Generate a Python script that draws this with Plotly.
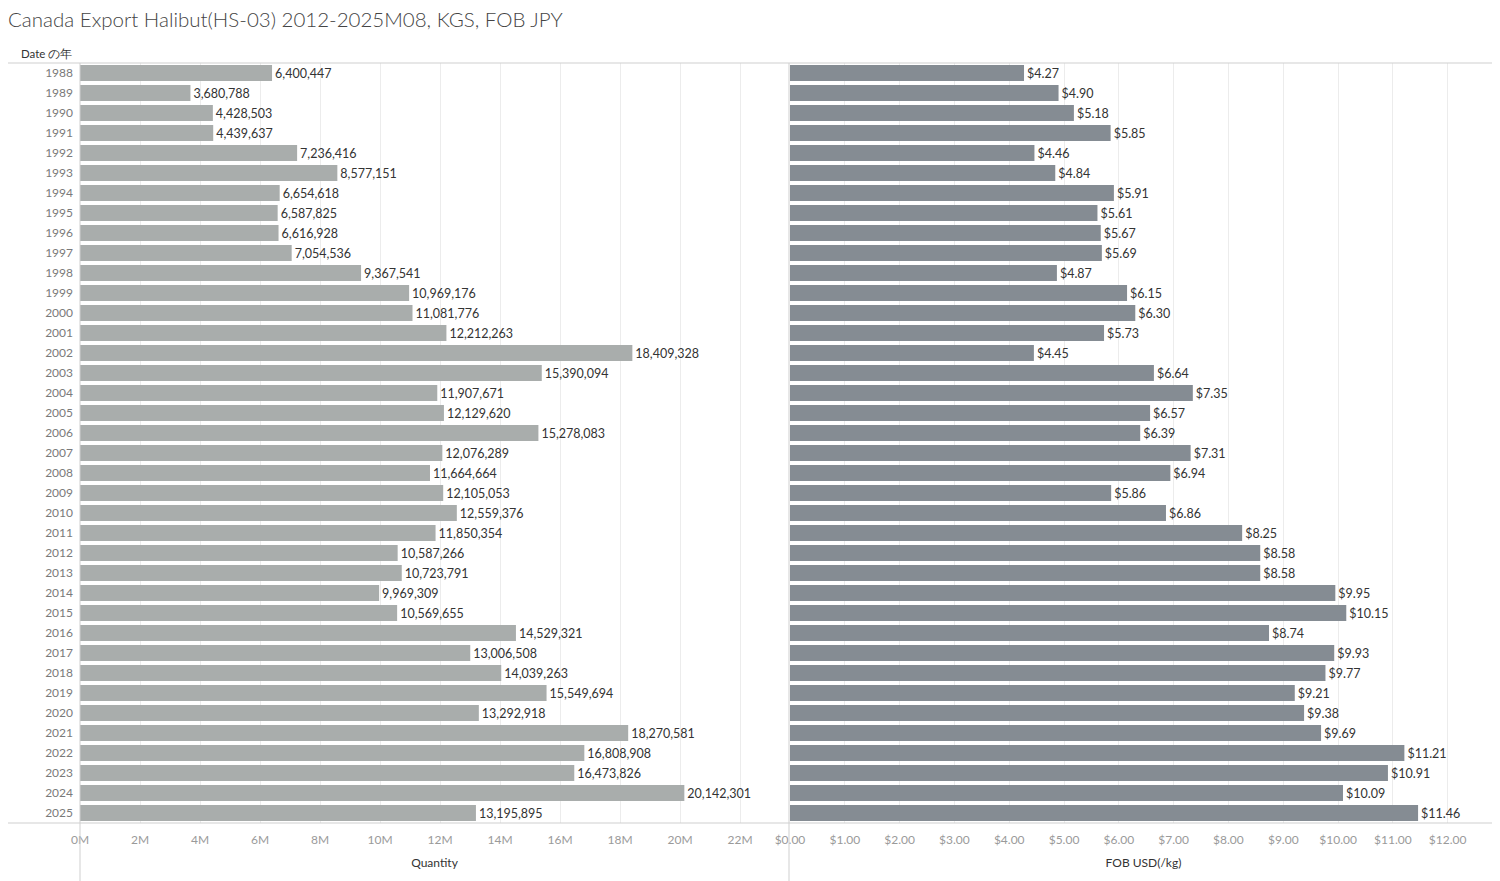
import plotly.graph_objects as go

years = [str(y) for y in range(1988, 2026)]
quantity = [6400447, 3680788, 4428503, 4439637, 7236416, 8577151, 6654618, 6587825,
            6616928, 7054536, 9367541, 10969176, 11081776, 12212263, 18409328, 15390094,
            11907671, 12129620, 15278083, 12076289, 11664664, 12105053, 12559376, 11850354,
            10587266, 10723791, 9969309, 10569655, 14529321, 13006508, 14039263, 15549694,
            13292918, 18270581, 16808908, 16473826, 20142301, 13195895]
fob_usd = [4.27, 4.90, 5.18, 5.85, 4.46, 4.84, 5.91, 5.61, 5.67, 5.69, 4.87, 6.15, 6.30,
           5.73, 4.45, 6.64, 7.35, 6.57, 6.39, 7.31, 6.94, 5.86, 6.86, 8.25, 8.58, 8.58,
           9.95, 10.15, 8.74, 9.93, 9.77, 9.21, 9.38, 9.69, 11.21, 10.91, 10.09, 11.46]

qty_ticks = [i * 2_000_000 for i in range(12)]
qty_ticktext = [f"{i*2}M" for i in range(12)]
usd_ticks = list(range(13))
usd_ticktext = [f"${v}.00" for v in usd_ticks]

# page has an 8px body margin; compensate so page coords match
OFF = 8
W, H = 1500 - OFF, 881 - OFF
L, R, T, B = 80 - OFF, 3, 63 - OFF, 58
pw = W - L - R
ph = H - T - B
split = (789 - 80) / pw

FONT = "Lato"
fig = go.Figure()
fig.add_trace(go.Bar(
    y=years, x=quantity, orientation="h", xaxis="x", yaxis="y",
    marker=dict(color="#a9adac", line=dict(width=0)),
    texttemplate="%{x:,}", textposition="outside", cliponaxis=False,
    textfont=dict(color="#333333", size=12.5, family=FONT), hoverinfo="skip",
))
fig.add_trace(go.Bar(
    y=years, x=fob_usd, orientation="h", xaxis="x2", yaxis="y",
    marker=dict(color="#858c93", line=dict(width=0)),
    texttemplate="$%{x:.2f}", textposition="outside", cliponaxis=False,
    textfont=dict(color="#333333", size=12.5, family=FONT), hoverinfo="skip",
))

axis_common = dict(showgrid=True, gridcolor="#ececec", gridwidth=1, zeroline=False,
                   showline=False, ticks="", tickfont=dict(color="#9a9a9a", size=12, family=FONT),
                   ticklabelstandoff=8, fixedrange=True)
fig.update_layout(
    width=W, height=H,
    margin=dict(l=L, r=R, t=T, b=B, pad=0),
    paper_bgcolor="white", plot_bgcolor="white",
    showlegend=False, bargap=0.2,
    font=dict(family=FONT, color="#333333"),
    xaxis=dict(domain=[0, split], range=[0, 23.63e6], tickvals=qty_ticks, ticktext=qty_ticktext,
               title=dict(text="Quantity", font=dict(size=12, color="#333333"), standoff=12),
               **axis_common),
    xaxis2=dict(domain=[split + 1 / pw, 1], range=[0, 12.9], tickvals=usd_ticks, ticktext=usd_ticktext,
                anchor="y",
                title=dict(text="FOB USD(/kg)", font=dict(size=12, color="#333333"), standoff=12),
                **axis_common),
    yaxis=dict(type="category", categoryorder="array", categoryarray=years, autorange="reversed",
               showgrid=False, zeroline=False, showline=False, ticks="",
               tickfont=dict(color="#7a7a7a", size=12, family=FONT), ticklabelstandoff=6,
               fixedrange=True),
    title=dict(text="Canada Export Halibut(HS-03) 2012-2025M08, KGS, FOB JPY",
               x=0, xref="container", xanchor="left",
               y=1 - (20 - OFF) / H, yref="container", yanchor="middle",
               font=dict(size=20.5, color="#444444", family=FONT, weight=300)),
)

line_col = "#cfcfcf"
shapes = [
    dict(type="line", xref="paper", yref="paper", x0=-L / pw, x1=1, y0=1, y1=1,
         line=dict(color=line_col, width=1)),
    dict(type="line", xref="paper", yref="paper", x0=-L / pw, x1=1 + R / pw, y0=0, y1=0,
         line=dict(color=line_col, width=1)),
    dict(type="line", xref="paper", yref="paper", x0=0, x1=0, y0=-B / ph, y1=1,
         line=dict(color=line_col, width=1)),
    dict(type="line", xref="paper", yref="paper", x0=split, x1=split, y0=-B / ph, y1=1,
         line=dict(color=line_col, width=1)),
    dict(type="line", xref="paper", yref="paper", x0=1, x1=1, y0=0, y1=1,
         line=dict(color=line_col, width=1)),
]
fig.update_layout(shapes=shapes)
fig.add_annotation(text="Date の年", xref="paper", yref="paper", x=-6 / pw, y=1 + 10 / ph,
                   xanchor="right", yanchor="middle", showarrow=False,
                   font=dict(size=11.5, color="#333333", family=FONT))

fig.write_html("out.html")
